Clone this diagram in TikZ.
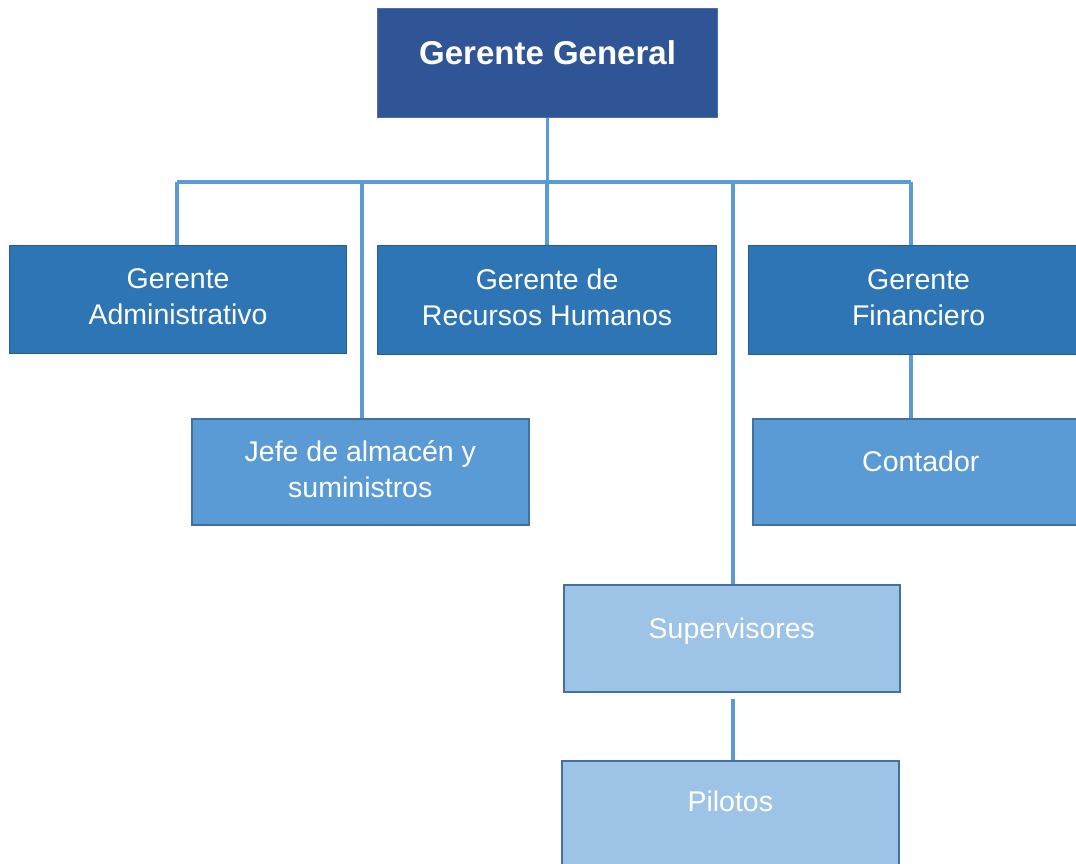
\documentclass[tikz,border=0pt]{standalone}
\usepackage{fontspec}
\setmainfont{Liberation Sans}
\definecolor{ggfill}{HTML}{2F5597}
\definecolor{lvtwo}{HTML}{2E75B6}
\definecolor{lvthree}{HTML}{5B9BD5}
\definecolor{lvfour}{HTML}{9DC3E6}
\definecolor{edgec}{HTML}{41719C}
\definecolor{linec}{HTML}{5B9BD5}
\newcommand\bt[2][8pt]{\raisebox{#1}{\begin{tabular}{@{}c@{}}#2\end{tabular}}}
\begin{document}
\begin{tikzpicture}[x=1pt,y=-1pt,
  box/.style={anchor=north west,rectangle,inner sep=0pt,text=white,
    font=\fontsize{28.5}{36}\selectfont,line width=1.2pt},
  gbox/.style={box,fill=ggfill,draw=ggfill!85!white,
    font=\fontsize{33}{40}\selectfont\bfseries},
  twobox/.style={box,fill=lvtwo,draw=lvtwo!80!black},
  threebox/.style={box,fill=lvthree,draw=edgec,line width=1.6pt},
  fourbox/.style={box,fill=lvfour,draw=edgec,line width=1.6pt},
  conn/.style={draw=linec,line width=3.5pt}]
\useasboundingbox (0,0) rectangle (1076,863);
\clip (0,0) rectangle (1076,863);
\node[gbox,minimum width=340pt,minimum height=109pt] (gg) at (377,8) {\bt[26pt]{Gerente General}};
\node[twobox,minimum width=337pt,minimum height=108pt] (adm) at (9,245) {\bt[17pt]{Gerente\\Administrativo}};
\node[twobox,minimum width=339pt,minimum height=109pt] (rh) at (377,245) {\bt[17pt]{Gerente de\\Recursos Humanos}};
\node[twobox,minimum width=340pt,minimum height=109pt] (fin) at (748,245) {\bt[17pt]{Gerente\\Financiero}};
\node[threebox,minimum width=336pt,minimum height=106pt] (cont) at (752,418) {\bt[27pt]{Contador}};
\node[threebox,minimum width=337pt,minimum height=106pt] (jefe) at (191,418) {\bt[15pt]{Jefe de almacén y\\suministros}};
\node[fourbox,minimum width=336pt,minimum height=107pt] (sup) at (563,584) {\bt[25pt]{Supervisores}};
\node[fourbox,minimum width=337pt,minimum height=112pt] (pil) at (561,760) {\bt[36pt]{Pilotos}};
\coordinate (busL) at (177,182);
\coordinate (busR) at (911,182);
\coordinate (busJ) at (362,182);
\coordinate (busS) at (733,182);
\draw[conn] (gg.south) -- (gg.south |- busL);
\draw[conn] (busL) -- (busR);
\draw[conn] (busL) -- (busL |- adm.north);
\draw[conn] (busJ) -- (busJ |- jefe.north);
\draw[conn] (rh.north |- busL) -- (rh.north);
\draw[conn] (busS) -- (busS |- sup.north);
\draw[conn] (busR) -- (busR |- fin.north);
\draw[conn] (busR |- fin.south) -- (busR |- cont.north);
\draw[conn,shorten <=6pt] (busS |- sup.south) -- (busS |- pil.north);
\end{tikzpicture}
\end{document}
